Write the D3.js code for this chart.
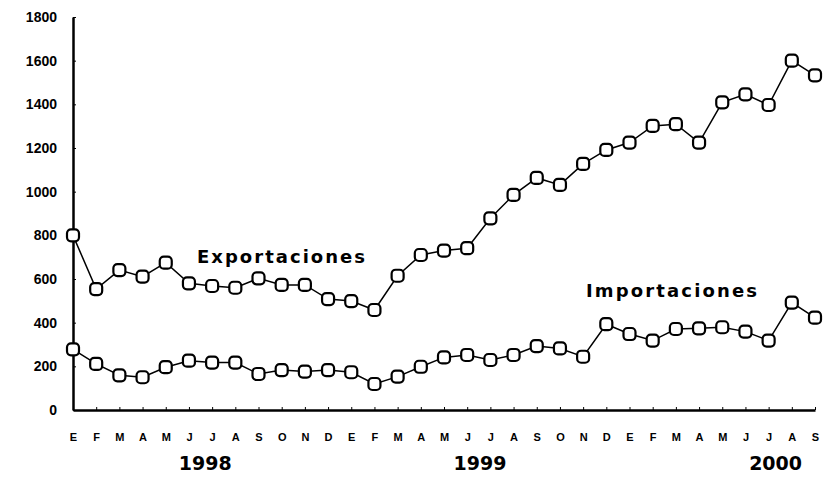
<!DOCTYPE html>
<html>
<head>
<meta charset="utf-8">
<script src="https://cdn.jsdelivr.net/npm/d3@7"></script>
<style>
  html, body { margin: 0; padding: 0; background: #fff; }
  svg { display: block; font-family: "DejaVu Sans", "Liberation Sans", Arial, sans-serif; }
  .axis text { font-weight: bold; fill: #000; }
  .axis path, .axis line { stroke: #000; }
</style>
</head>
<body>
<svg id="chart" width="827" height="477"></svg>
<script>
// --- data (Jan 1998 .. Sep 2000) ---
const monthLabels = ['E','F','M','A','M','J','J','A','S','O','N','D',
                     'E','F','M','A','M','J','J','A','S','O','N','D',
                     'E','F','M','A','M','J','J','A','S'];
const exportaciones = [800, 554, 641, 611, 675, 580, 568, 560, 603, 573, 573, 508,
                       499, 458, 615, 710, 730, 741, 878, 985, 1063, 1031, 1127, 1191,
                       1225, 1301, 1309, 1225, 1409, 1446, 1397, 1600, 1533];
const importaciones = [278, 211, 159, 150, 196, 226, 217, 217, 165, 183, 176, 183,
                       173, 119, 153, 198, 241, 252, 229, 252, 293, 282, 244, 393,
                       348, 318, 371, 374, 379, 359, 318, 492, 423];
const yearLabels = [{ text: '1998', at: 5.7 }, { text: '1999', at: 17.55 }, { text: '2000', at: 30.3 }];
const yTicks = [0, 200, 400, 600, 800, 1000, 1200, 1400, 1600, 1800];

const svg = d3.select('#chart');

const x = d3.scaleLinear().domain([0, monthLabels.length - 1]).range([73, 815]);
const y = d3.scaleLinear().domain([0, 1800]).range([410, 17]);

// y axis
const yAxis = svg.append('g')
    .attr('class', 'axis')
    .attr('transform', `translate(${x(0)},0)`)
    .call(d3.axisLeft(y).tickValues(yTicks).tickFormat(d3.format('d'))
        .tickSize(-3).tickPadding(16).tickSizeOuter(0));
yAxis.select('.domain').attr('stroke-width', 2.5);
yAxis.selectAll('text').attr('font-size', 14);

// x axis
const xAxis = svg.append('g')
    .attr('class', 'axis')
    .attr('transform', `translate(0,${y(0)})`)
    .call(d3.axisBottom(x).tickValues(d3.range(monthLabels.length))
        .tickFormat(i => monthLabels[i]).tickSize(-3).tickPadding(23).tickSizeOuter(0));
xAxis.select('.domain').attr('stroke-width', 2.5);
xAxis.selectAll('text').attr('font-size', 11);

svg.append('g').selectAll('text')
    .data(yearLabels)
    .join('text')
    .attr('x', d => x(d.at))
    .attr('y', 470)
    .attr('text-anchor', 'middle')
    .attr('font-size', 19)
    .attr('font-weight', 'bold')
    .text(d => d.text);

// series
const line = d3.line().x((d, i) => x(i)).y(d => y(d));

[exportaciones, importaciones].forEach(series => {
    svg.append('path')
        .datum(series)
        .attr('fill', 'none')
        .attr('stroke', '#000')
        .attr('stroke-width', 1.5)
        .attr('d', line);

    svg.append('g').selectAll('rect')
        .data(series)
        .join('rect')
        .attr('x', (d, i) => x(i) - 6)
        .attr('y', d => y(d) - 6)
        .attr('width', 12)
        .attr('height', 12)
        .attr('rx', 4)
        .attr('fill', '#fff')
        .attr('stroke', '#000')
        .attr('stroke-width', 2.2);
});

// series labels
svg.append('text')
    .attr('x', 197).attr('y', 263)
    .attr('font-size', 18).attr('font-weight', 'bold')
    .attr('textLength', 168).attr('lengthAdjust', 'spacing')
    .text('Exportaciones');
svg.append('text')
    .attr('x', 586).attr('y', 297)
    .attr('font-size', 18).attr('font-weight', 'bold')
    .attr('textLength', 171).attr('lengthAdjust', 'spacing')
    .text('Importaciones');
</script>
</body>
</html>
